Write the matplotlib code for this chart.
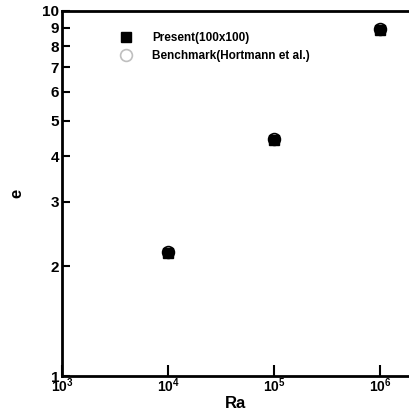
import numpy as np
import matplotlib
matplotlib.use('Agg')
import matplotlib.pyplot as plt
from matplotlib.ticker import FixedLocator, FixedFormatter, NullLocator

ra = [1e4, 1e5, 1e6]
e_present = [2.17, 4.43, 8.87]
e_bench = [2.19, 4.45, 8.90]

yticks = [1, 2, 3, 4, 5, 6, 7, 8, 9, 10]
xticks = [1e3, 1e4, 1e5, 1e6]
xlabels = [r'$\mathbf{10^{3}}$', r'$\mathbf{10^{4}}$', r'$\mathbf{10^{5}}$', r'$\mathbf{10^{6}}$']

plt.rcParams['font.family'] = ['Liberation Sans', 'DejaVu Sans']
plt.rcParams['mathtext.fontset'] = 'custom'
plt.rcParams['mathtext.bf'] = 'Liberation Sans:bold'
plt.rcParams['mathtext.rm'] = 'Liberation Sans'

fig = plt.figure(figsize=(4.10, 4.16), dpi=100)
ax = fig.add_axes([0.151, 0.096, 0.849, 0.878])

ax.plot(ra, e_bench, 'o', ms=8.5, mfc='white', mec='black', mew=1.2,
        label='Benchmark(Hortmann et al.)', zorder=2)
ax.plot(ra, e_present, 's', ms=6.5, color='black',
        label='Present(100x100)', zorder=3)

ax.set_xscale('log')
ax.set_yscale('log')
ax.set_xlim(1e3, 10 ** 6.28)
ax.set_ylim(1, 10)

ax.xaxis.set_major_locator(FixedLocator(xticks))
ax.xaxis.set_major_formatter(FixedFormatter(xlabels))
ax.xaxis.set_minor_locator(NullLocator())
ax.yaxis.set_major_locator(FixedLocator(yticks))
ax.yaxis.set_major_formatter(FixedFormatter([str(v) for v in yticks]))
ax.yaxis.set_minor_locator(NullLocator())

ax.tick_params(axis='x', direction='in', length=8, width=1.5, labelsize=10, pad=0)
ax.tick_params(axis='y', direction='in', length=6, width=1.5, labelsize=11, pad=2)
for lbl in ax.get_yticklabels():
    lbl.set_fontweight('bold')
ax.spines['right'].set_visible(False)
for s in ['left', 'bottom', 'top']:
    ax.spines[s].set_linewidth(2)

ax.set_xlabel('Ra', fontsize=12, fontweight='bold', labelpad=1)
ax.set_ylabel('e', fontsize=12, fontweight='bold', labelpad=13)

handles, labels = ax.get_legend_handles_labels()
leg = ax.legend(handles[::-1], labels[::-1], loc='upper left',
                bbox_to_anchor=(0.12, 0.97), frameon=False,
                prop={'weight': 'bold', 'size': 8.5}, handletextpad=1.2,
                labelspacing=0.45, markerscale=1.0)
leg.legend_handles[1].set_markeredgecolor('0.75')

fig.savefig('out.png', dpi=100)
